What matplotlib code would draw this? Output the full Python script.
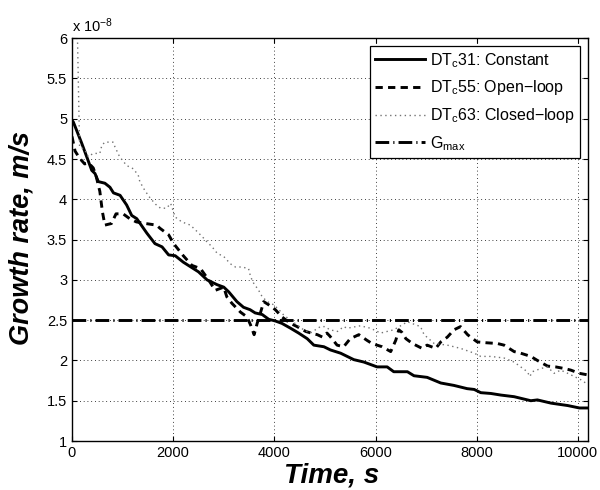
import matplotlib
matplotlib.use("Agg")
import matplotlib.pyplot as plt

plt.rcParams['font.family'] = ['Liberation Sans', 'DejaVu Sans']
plt.rcParams['mathtext.default'] = 'regular'

# time (s) and growth rate (x 1e-8 m/s)
t_const = [0, 26, 190, 290, 390, 455, 520, 650, 750, 820, 950, 1080, 1180, 1280,
           1480, 1640, 1780, 1910, 2040, 2200, 2400, 2500, 2670, 2870, 3000, 3100,
           3260, 3390, 3520, 3620, 3760, 3890, 4020, 4150, 4320, 4480, 4650, 4780,
           4980, 5110, 5310, 5440, 5570, 5770, 6030, 6230, 6360, 6500, 6630, 6760,
           7020, 7290, 7550, 7810, 7950, 8080, 8280, 8480, 8740, 9070, 9200, 9470,
           9800, 10030, 10200]
g_const = [4.98, 4.96, 4.70, 4.53, 4.36, 4.32, 4.22, 4.20, 4.15, 4.08, 4.05, 3.93, 3.80,
           3.76, 3.58, 3.45, 3.41, 3.31, 3.30, 3.22, 3.14, 3.10, 3.00, 2.94, 2.91, 2.85,
           2.73, 2.66, 2.63, 2.59, 2.57, 2.51, 2.49, 2.46, 2.40, 2.34, 2.27, 2.19,
           2.17, 2.13, 2.09, 2.05, 2.01, 1.98, 1.92, 1.92, 1.86, 1.86, 1.86, 1.81,
           1.79, 1.72, 1.69, 1.65, 1.64, 1.60, 1.59, 1.57, 1.55, 1.50, 1.51, 1.47,
           1.44, 1.41, 1.41]

t_open = [0, 60, 150, 250, 330, 420, 480, 550, 600, 650, 780, 870, 1010, 1140, 1270,
          1450, 1670, 1740, 1910, 2010, 2200, 2370, 2540, 2700, 2830, 3000, 3060, 3160,
          3330, 3460, 3530, 3600, 3660, 3720, 3790, 3890, 4020, 4150, 4320, 4450, 4620,
          4780, 4850, 4950, 5040, 5100, 5240, 5370, 5500, 5670, 5830, 5930, 6130, 6300,
          6400, 6460, 6520, 6600, 6730, 6920, 7020, 7190, 7290, 7420, 7550, 7680, 7820,
          7880, 8010, 8180, 8410, 8540, 8740, 8870, 9070, 9200, 9400, 9560, 9730, 9860,
          10030, 10200]
g_open = [4.78, 4.60, 4.51, 4.44, 4.45, 4.39, 4.28, 4.10, 3.85, 3.68, 3.70, 3.82, 3.82,
          3.76, 3.72, 3.70, 3.68, 3.64, 3.56, 3.45, 3.30, 3.18, 3.14, 3.00, 2.87, 2.91,
          2.79, 2.71, 2.60, 2.54, 2.44, 2.32, 2.46, 2.58, 2.73, 2.69, 2.63, 2.54, 2.46,
          2.42, 2.36, 2.33, 2.32, 2.29, 2.34, 2.30, 2.19, 2.17, 2.27, 2.32, 2.25, 2.21,
          2.17, 2.11, 2.25, 2.38, 2.35, 2.27, 2.21, 2.15, 2.19, 2.15, 2.23, 2.29, 2.38,
          2.42, 2.32, 2.29, 2.23, 2.22, 2.21, 2.19, 2.11, 2.09, 2.05, 2.00, 1.93, 1.92,
          1.90, 1.88, 1.84, 1.82]

t_closed = [0, 110, 150, 250, 320, 420, 550, 590, 650, 810, 850, 940, 1080, 1210, 1310,
            1340, 1440, 1540, 1650, 1750, 1870, 1950, 2040, 2170, 2340, 2440, 2570, 2670,
            2770, 2870, 3000, 3130, 3230, 3360, 3490, 3530, 3590, 3690, 3760, 3860, 3990,
            4090, 4190, 4320, 4450, 4580, 4710, 4910, 5000, 5100, 5250, 5370, 5440, 5700,
            5900, 6100, 6360, 6630, 6890, 6960, 7160, 7420, 7680, 7950, 8080, 8280, 8540,
            8740, 9000, 9050, 9100, 9270, 9400, 9530, 9660, 9800, 9930, 10060, 10200]
g_closed = [6.60, 5.95, 4.65, 4.62, 4.53, 4.57, 4.57, 4.67, 4.71, 4.71, 4.65, 4.53, 4.42,
            4.38, 4.30, 4.22, 4.11, 4.02, 3.94, 3.89, 3.89, 3.95, 3.78, 3.72, 3.68, 3.62,
            3.54, 3.47, 3.41, 3.33, 3.29, 3.20, 3.16, 3.16, 3.14, 3.04, 2.96, 2.87, 2.79,
            2.73, 2.69, 2.63, 2.56, 2.50, 2.44, 2.38, 2.34, 2.42, 2.42, 2.38, 2.36, 2.42,
            2.40, 2.43, 2.40, 2.34, 2.38, 2.48, 2.42, 2.32, 2.21, 2.19, 2.15, 2.09, 2.05,
            2.05, 2.03, 1.98, 1.86, 1.80, 1.86, 1.90, 1.92, 1.84, 1.88, 1.84, 1.80, 1.76,
            1.70]

g_max = 2.5
labels = ['DT$_c$31: Constant', 'DT$_c$55: Open\u2212loop',
          'DT$_c$63: Closed\u2212loop', 'G$_{max}$']

fig = plt.figure(figsize=(6, 4.9), dpi=100)
ax = fig.add_axes([0.12, 0.1, 0.86, 0.822])

ax.plot(t_const, g_const, color='k', lw=2.1, label=labels[0])
ax.plot(t_open, g_open, color='k', lw=2.1, linestyle=(0, (2.5, 1.8)), label=labels[1])
ax.plot(t_closed, g_closed, color='0.45', lw=1.0, linestyle=(0, (1, 2.5)), label=labels[2])
ax.axhline(g_max, color='k', lw=2.1, linestyle=(0, (4.7, 1.4, 0.4, 1.4)), label=labels[3])

ax.set_xlim(0, 10200)
ax.set_ylim(1, 6)
ax.set_xticks([0, 2000, 4000, 6000, 8000, 10000])
ax.set_yticks([1, 1.5, 2, 2.5, 3, 3.5, 4, 4.5, 5, 5.5, 6])
ax.set_yticklabels(['1', '1.5', '2', '2.5', '3', '3.5', '4', '4.5', '5', '5.5', '6'])
ax.tick_params(direction='in', top=True, right=True, length=3.5, labelsize=10.5, width=0.8)
ax.grid(True, color='k', lw=0.6, linestyle=(0, (1, 3.5)))
for s in ax.spines.values():
    s.set_linewidth(1.0)

ax.text(0, 1.008, r'x 10$^{-8}$', transform=ax.transAxes, ha='left', va='bottom', fontsize=10.5)

fig.text(332 / 600, 0.016, 'Time, s', ha='center', va='baseline',
         fontsize=20, fontweight='bold', fontstyle='italic')
fig.text(22 / 600, 1 - 238 / 490, 'Growth rate, m/s', ha='center', va='center', rotation=90,
         fontsize=19.5, fontweight='bold', fontstyle='italic')

leg = ax.legend(loc='upper right', fontsize=11.5, handlelength=3.1, fancybox=False,
                framealpha=1, edgecolor='k', borderaxespad=0.5, labelspacing=0.55,
                handletextpad=0.35, borderpad=0.3)
leg.get_frame().set_linewidth(0.9)

fig.savefig('out.png', dpi=100)
